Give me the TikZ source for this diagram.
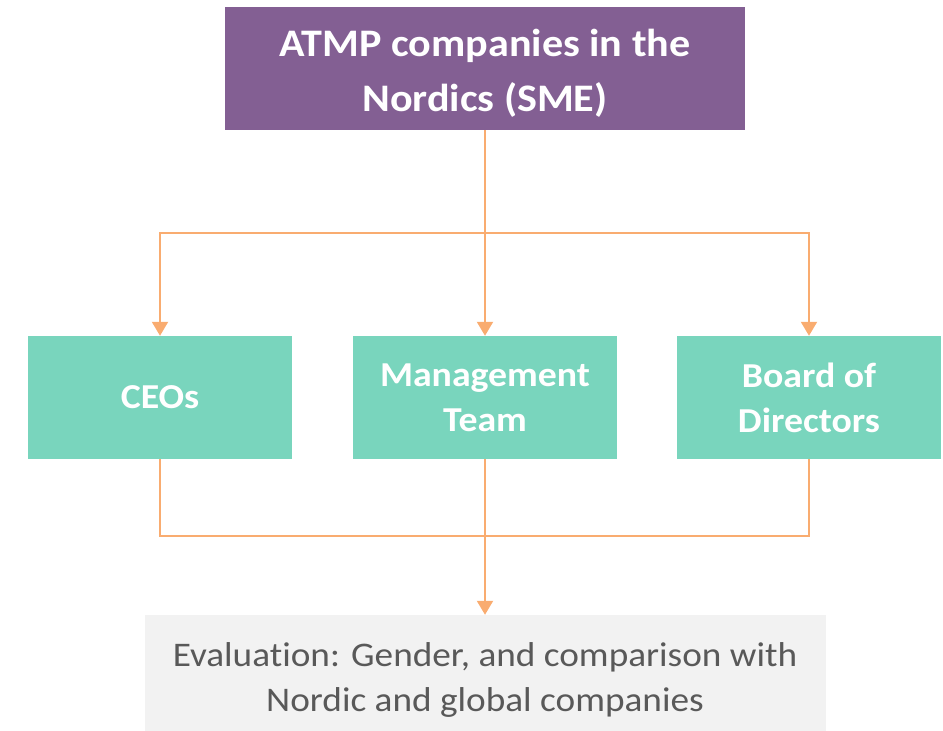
\documentclass[tikz,border=0pt]{standalone}
\usepackage{fontspec}
\setmainfont[FakeStretch=1.08, Ligatures=NoCommon]{Carlito}
\usepackage{xcolor}
\usepackage{tikz}
\usetikzlibrary{arrows.meta}
\definecolor{atmppurple}{HTML}{835F93}
\definecolor{rolegreen}{HTML}{79D5BD}
\definecolor{linkorange}{HTML}{F9AC70}
\definecolor{evalgray}{HTML}{F2F2F2}
\definecolor{evaltext}{HTML}{595959}

\begin{document}
\begin{tikzpicture}[x=1pt, y=-1pt,
  head/.style={fill=atmppurple, text=white, minimum width=520pt, minimum height=123pt,
    align=center, text height=86pt, text depth=0pt, font=\fontsize{39}{55}\selectfont\bfseries},
  role/.style={fill=rolegreen, text=white, minimum width=264pt, minimum height=123pt,
    align=center, font=\fontsize{35}{45}\selectfont\bfseries},
  evalbox/.style={fill=evalgray, text=evaltext, minimum width=681pt, minimum height=116pt,
    align=center, text height=77pt, text depth=0pt, font=\fontsize{34.5}{45}\selectfont},
  link/.style={draw=linkorange, line width=2pt},
  arrow/.style={link, -{Triangle[length=14pt, width=16pt]}}
]
\useasboundingbox (0,0) rectangle (943,731);
\node[head] (atmp) at (485,68.5) {ATMP companies in the\\Nordics (SME)};
\node[role] (ceo) at (160,397.5) {CEOs};
\node[role] (mgmt) at (485,397.5) {Management\\Team};
\node[role] (board) at (809,397.5) {Board of\\Directors};
\node[evalbox] (eval) at (485,673) {Evaluation: Gender, and comparison with\\Nordic and global companies};
\coordinate (split) at (485,233);
\coordinate (join) at (485,536);
% fan out to the three groups
\draw[arrow] (atmp.south) -- (mgmt.north);
\draw[arrow] (split) -| (ceo.north);
\draw[arrow] (split) -| (board.north);
% collect into the evaluation
\draw[link] (ceo.south) |- (join);
\draw[link] (board.south) |- (join);
\draw[link] (mgmt.south) -- (join);
\draw[arrow] (join) -- (eval.north);
\end{tikzpicture}
\end{document}
